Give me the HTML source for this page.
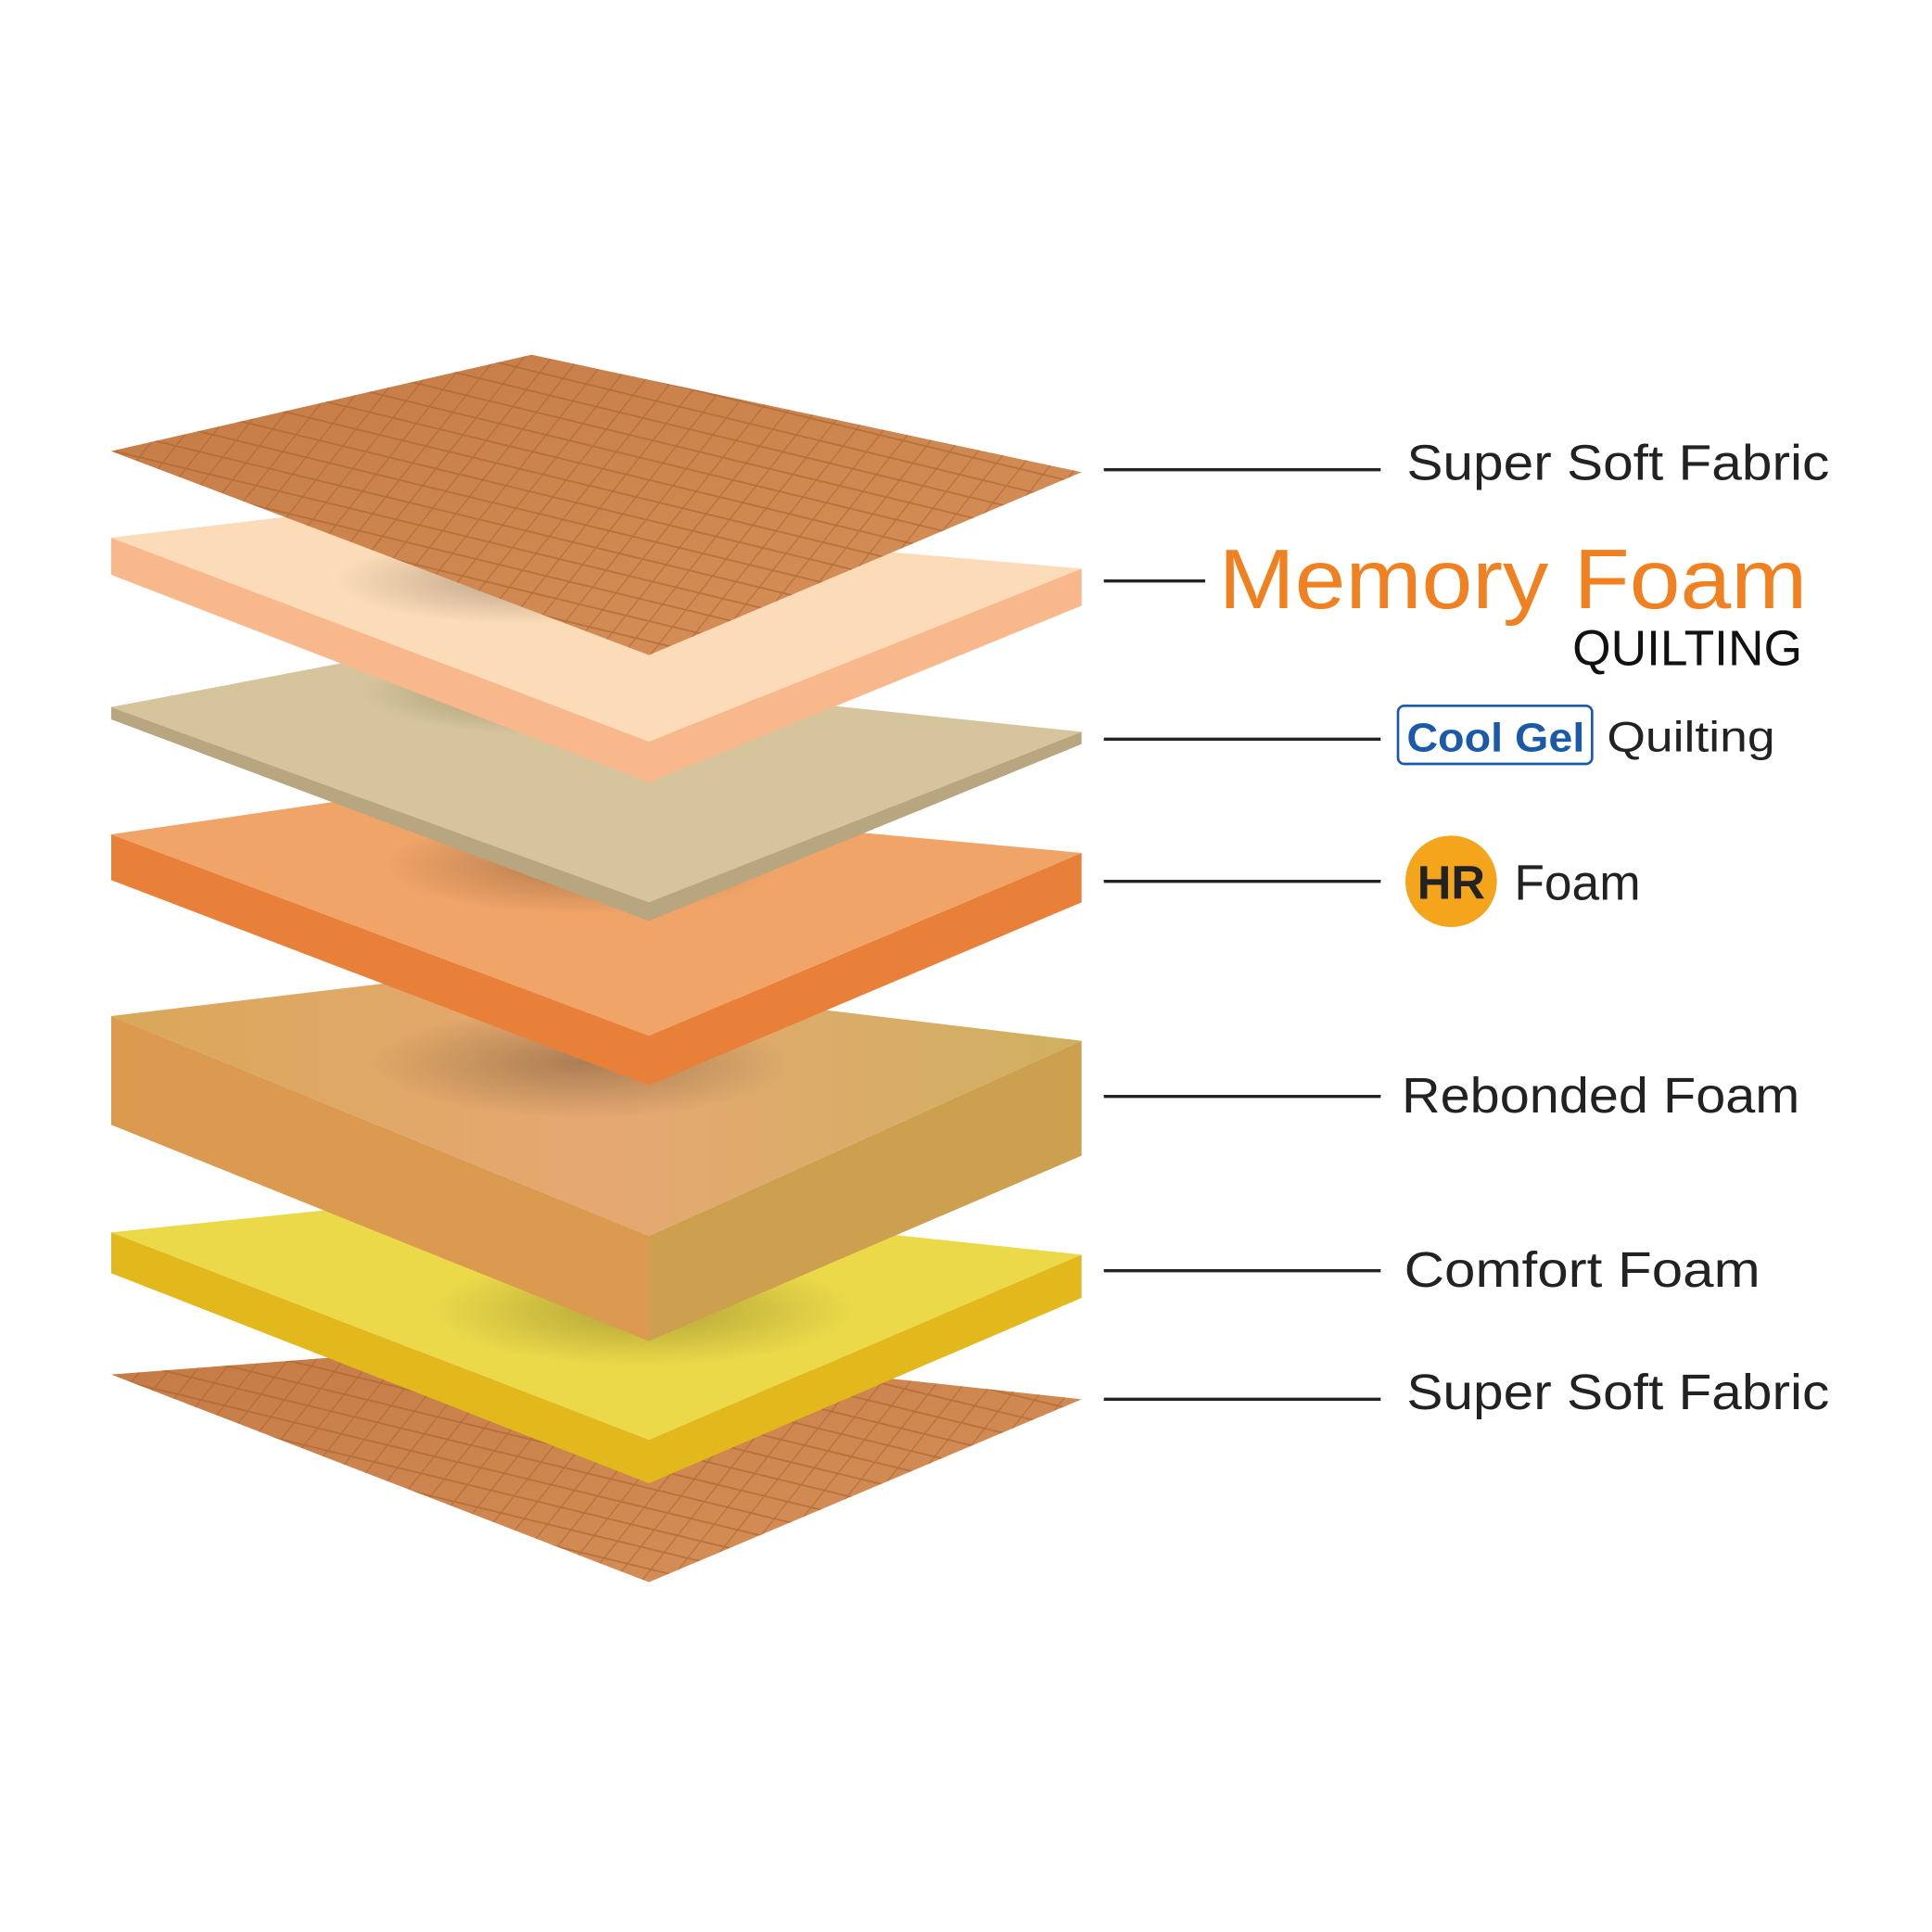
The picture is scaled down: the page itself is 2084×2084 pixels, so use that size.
<!DOCTYPE html>
<html><head><style>html,body{margin:0;padding:0;background:#fff}svg{display:block}</style></head>
<body>
<svg width="2084" height="2084" viewBox="0 0 1563 1563" xmlns="http://www.w3.org/2000/svg" font-family="Liberation Sans, sans-serif">
<defs>
<linearGradient id="fab" x1="0" y1="0" x2="1" y2="1"><stop offset="0" stop-color="#c47a45"/><stop offset="1" stop-color="#d8925a"/></linearGradient>
<linearGradient id="reb" x1="0" y1="0" x2="1" y2="0"><stop offset="0" stop-color="#d9a85a"/><stop offset="0.5" stop-color="#e6a872"/><stop offset="1" stop-color="#cfb060"/></linearGradient>
<pattern id="grid" width="22" height="14" patternUnits="userSpaceOnUse" patternTransform="skewX(-30) rotate(12)"><rect width="22" height="14" fill="none" stroke="#a8602f" stroke-width="1.2" opacity="0.6"/></pattern>
<radialGradient id="shad"><stop offset="0" stop-color="#000" stop-opacity="0.25"/><stop offset="1" stop-color="#000" stop-opacity="0"/></radialGradient>
</defs>

<polygon points="90,1112 440,1085 875,1132 525,1280" fill="url(#fab)"/>
<polygon points="90,1112 440,1085 875,1132 525,1280" fill="url(#grid)"/>

<polygon points="90,997 90,1030 525,1200 875,1050 875,1015 525,1165" fill="#e2b81c"/>
<polygon points="90,997 400,965 875,1015 525,1165" fill="#ebd94a"/>
<ellipse cx="520" cy="1060" rx="170" ry="45" fill="url(#shad)"/>

<polygon points="90,822 90,910 525,1085 525,1000" fill="#dc9a50"/>
<polygon points="525,1000 525,1085 875,935 875,842" fill="#cda050"/>
<polygon points="90,822 400,785 875,842 525,1000" fill="url(#reb)"/>
<ellipse cx="470" cy="860" rx="170" ry="45" fill="url(#shad)"/>

<polygon points="90,675 90,712 525,878 875,730 875,690 525,838" fill="#e9803a"/>
<polygon points="90,675 330,640 875,690 525,838" fill="#f0a468"/>
<ellipse cx="470" cy="700" rx="160" ry="40" fill="url(#shad)"/>

<polygon points="90,572 90,582 525,745 875,602 875,592 525,730" fill="#b8a680"/>
<polygon points="90,572 300,532 875,592 525,730" fill="#d6c59c"/>
<ellipse cx="440" cy="560" rx="150" ry="35" fill="url(#shad)"/>

<polygon points="90,435 90,465 525,633 875,490 875,460 525,600" fill="#f9b88c"/>
<polygon points="90,435 300,410 875,460 525,600" fill="#fcdcb8"/>
<ellipse cx="420" cy="470" rx="150" ry="35" fill="url(#shad)"/>

<polygon points="90,365 430,287 875,382 525,530" fill="url(#fab)"/>
<polygon points="90,365 430,287 875,382 525,530" fill="url(#grid)"/>

<g stroke="#222" stroke-width="2.5">
<line x1="893" y1="380" x2="1117" y2="380"/>
<line x1="893" y1="470" x2="975" y2="470"/>
<line x1="893" y1="598" x2="1117" y2="598"/>
<line x1="893" y1="713" x2="1117" y2="713"/>
<line x1="893" y1="887" x2="1117" y2="887"/>
<line x1="893" y1="1028" x2="1117" y2="1028"/>
<line x1="893" y1="1132" x2="1117" y2="1132"/>
</g>

<g fill="#222" font-size="40">
<text x="1138" y="388" textLength="342" lengthAdjust="spacingAndGlyphs">Super Soft Fabric</text>
<text x="986" y="492" font-size="68" fill="#f08020" textLength="476" lengthAdjust="spacingAndGlyphs">Memory Foam</text>
<text x="1458" y="538" font-size="40" text-anchor="end" fill="#111">QUILTING</text>
<rect x="1131" y="571" width="157" height="47" rx="5" fill="none" stroke="#1a5aa8" stroke-width="2"/>
<text x="1138" y="608" font-size="33" font-weight="bold" fill="#1a5aa8" textLength="144" lengthAdjust="spacingAndGlyphs">Cool Gel</text>
<text x="1300" y="608" font-size="35" textLength="136" lengthAdjust="spacingAndGlyphs">Quilting</text>
<circle cx="1174" cy="713" r="37" fill="#f5a51b"/>
<text x="1174" y="727" font-size="38" font-weight="bold" text-anchor="middle" fill="#222">HR</text>
<text x="1225" y="728">Foam</text>
<text x="1134" y="900" textLength="322" lengthAdjust="spacingAndGlyphs">Rebonded Foam</text>
<text x="1136" y="1041" textLength="288" lengthAdjust="spacingAndGlyphs">Comfort Foam</text>
<text x="1138" y="1140" textLength="342" lengthAdjust="spacingAndGlyphs">Super Soft Fabric</text>
</g>
</svg>
</body></html>
